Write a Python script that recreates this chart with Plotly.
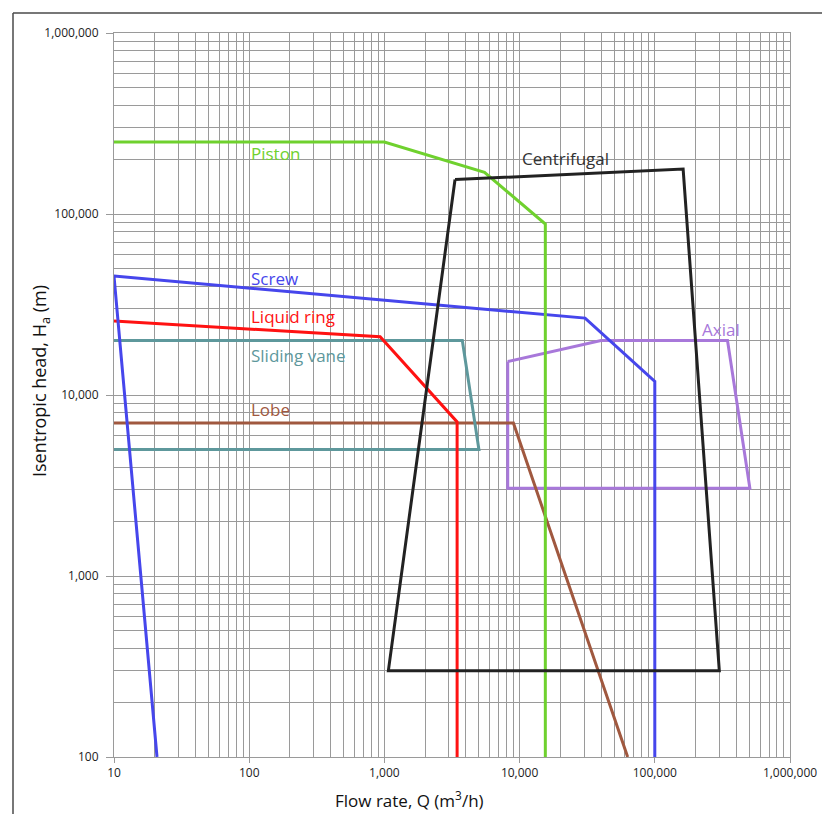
import numpy as np
import plotly.graph_objects as go

# ---- data ----
piston_q = [10, 1000, 5500, 15500, 15500]
piston_h = [250000, 250000, 170000, 88000, 100]

centrifugal_q = [3330, 162000, 300000, 1070, 3330]
centrifugal_h = [155000, 177000, 300, 300, 155000]

screw_q = [20.8, 10, 30500, 100000, 100000]
screw_h = [100, 45400, 26600, 11900, 100]

liquid_ring_q = [10, 930, 3450, 3450]
liquid_ring_h = [25600, 21000, 7100, 100]

sliding_vane_q = [10, 3770, 5000, 10]
sliding_vane_h = [20000, 20000, 5000, 5000]

lobe_q = [10, 9000, 63000]
lobe_h = [7000, 7000, 100]

axial_q = [8170, 40000, 345000, 505000, 8170, 8170]
axial_h = [15300, 20000, 20000, 3050, 3050, 15300]

label_names = ["Piston", "Centrifugal", "Screw", "Liquid ring", "Sliding vane", "Lobe", "Axial"]
label_q = [100, 10000, 100, 100, 100, 100, 216000]
label_h = [217000, 203000, 44200, 27100, 16600, 8340, 22900]

tick_vals = [10, 100, 1000, 10000, 100000, 1000000]
x_tick_text = ["10", "100", "1,000", "10,000", "100,000", "1,000,000"]
y_tick_vals = [100, 1000, 10000, 100000, 1000000]
y_tick_text = ["100", "1,000", "10,000", "100,000", "1,000,000"]

colors = {
    "Piston": "#6FD12E",
    "Centrifugal": "#222222",
    "Screw": "#4646EC",
    "Liquid ring": "#FF1212",
    "Sliding vane": "#5E989C",
    "Lobe": "#A0583F",
    "Axial": "#A878DA",
}
label_colors = dict(colors)
label_colors["Centrifugal"] = "#333333"

series = [
    ("Axial", axial_q, axial_h),
    ("Lobe", lobe_q, lobe_h),
    ("Sliding vane", sliding_vane_q, sliding_vane_h),
    ("Liquid ring", liquid_ring_q, liquid_ring_h),
    ("Screw", screw_q, screw_h),
    ("Piston", piston_q, piston_h),
    ("Centrifugal", centrifugal_q, centrifugal_h),
]

FONT = "Open Sans"

fig = go.Figure()
for name, q, h in series:
    fig.add_trace(go.Scatter(x=q, y=h, mode="lines", name=name,
                             line=dict(color=colors[name], width=3),
                             showlegend=False, hoverinfo="skip"))

for name, q, h in zip(label_names, label_q, label_h):
    fig.add_annotation(x=np.log10(q), y=np.log10(h), xref="x", yref="y",
                       text=name, showarrow=False, xanchor="left", yanchor="middle",
                       font=dict(family=FONT, size=17, color=label_colors[name]))

# page has an 8px body margin; figure placed at (8, 8)
OFF = 8
W, H = 830 - OFF, 814 - OFF
L, R, T, B = 114 - OFF, 40, 33 - OFF, 57
pw, ph = W - L - R, H - T - B

def px(xp):  # page pixel x -> paper
    return (xp - OFF - L) / pw

def py(yp):  # page pixel y -> paper
    return (H - B - (yp - OFF)) / ph

# axis titles
fig.add_annotation(x=px(409), y=py(799), xref="paper", yref="paper",
                   text="Flow rate, Q (m<sup>3</sup>/h)", showarrow=False,
                   xanchor="center", yanchor="middle",
                   font=dict(family=FONT, size=17, color="#111111"))
fig.add_annotation(x=px(40), y=py(381), xref="paper", yref="paper",
                   text="Isentropic head, H<sub>a</sub> (m)", showarrow=False,
                   textangle=-90, xanchor="center", yanchor="middle",
                   font=dict(family=FONT, size=18, color="#111111"))

# outer frame (left and top edges)
fig.add_shape(type="line", xref="paper", yref="paper",
              x0=px(13), y0=py(13), x1=px(835), y1=py(13),
              line=dict(color="#4a4a4a", width=1.5))
fig.add_shape(type="line", xref="paper", yref="paper",
              x0=px(13), y0=py(13), x1=px(13), y1=py(820),
              line=dict(color="#4a4a4a", width=1.5))

grid_col = "#9a9a9a"
fig.update_xaxes(type="log", range=[1, 6], tickvals=tick_vals, ticktext=x_tick_text,
                 showgrid=True, gridcolor=grid_col, gridwidth=1,
                 minor=dict(dtick="D1", showgrid=True, gridcolor=grid_col, gridwidth=1, ticks=""),
                 ticks="outside", ticklen=5, tickcolor=grid_col, tickwidth=1,
                 showline=True, linecolor=grid_col, linewidth=1, mirror=True,
                 zeroline=False,
                 tickfont=dict(family=FONT, size=12, color="#222222"))
fig.update_yaxes(type="log", range=[2, 6], tickvals=y_tick_vals, ticktext=y_tick_text,
                 showgrid=True, gridcolor=grid_col, gridwidth=1,
                 minor=dict(dtick="D1", showgrid=True, gridcolor=grid_col, gridwidth=1, ticks=""),
                 ticks="outside", ticklen=7, tickcolor=grid_col, tickwidth=1,
                 ticklabelstandoff=5,
                 showline=True, linecolor=grid_col, linewidth=1, mirror=True,
                 zeroline=False,
                 tickfont=dict(family=FONT, size=12, color="#222222"))

fig.update_layout(width=W, height=H, autosize=False,
                  margin=dict(l=L, r=R, t=T, b=B, pad=0),
                  paper_bgcolor="white", plot_bgcolor="white",
                  showlegend=False)

fig.write_html("out.html")
